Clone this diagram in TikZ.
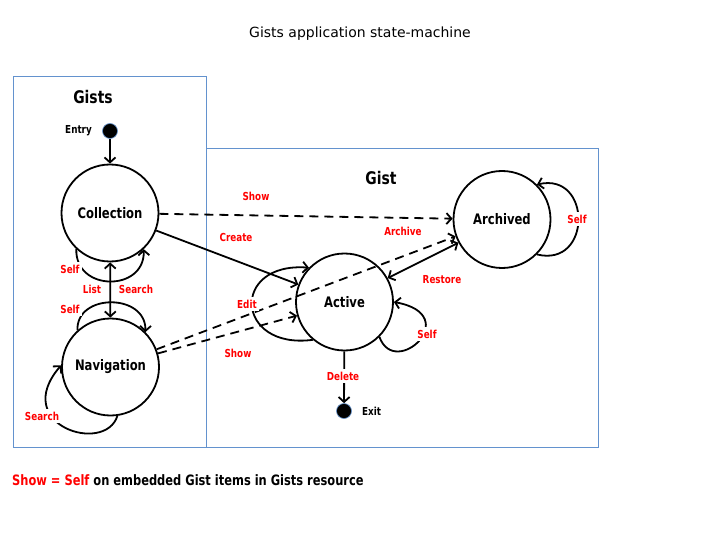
\documentclass[tikz,border=0pt]{standalone}
\usepackage{fontspec}
\setmainfont{DejaVu Sans}
\newfontfamily\bfnt[FakeStretch=0.8]{DejaVu Sans Bold}
\usetikzlibrary{arrows.meta}
\definecolor{boxblue}{RGB}{99,146,206}
\definecolor{lblred}{RGB}{255,0,0}
\begin{document}
\begin{tikzpicture}[x=1pt,y=-1pt,
  state/.style={circle,draw,line width=1.8pt,minimum size=97pt,inner sep=0pt,
    font=\bfnt\fontsize{14.5}{17}\selectfont},
  dot/.style={circle,fill=black,draw=boxblue,line width=0.6pt,minimum size=15pt,inner sep=0pt},
  lbl/.style={font=\bfnt\fontsize{11}{13}\selectfont,text=lblred,fill=white,inner sep=2.5pt},
  smalltxt/.style={font=\bfnt\fontsize{11}{13}\selectfont,inner sep=1pt},
  heading/.style={font=\bfnt\fontsize{17.4}{20}\selectfont,inner sep=1pt},
  tip/.style={Straight Barb[length=5pt,width=11pt]},
  conn/.style={line width=1.8pt,-{Straight Barb[length=5pt,width=11pt]}},
  dconn/.style={conn,dash pattern=on 9pt off 6pt},
  both/.style={line width=1.8pt,{Straight Barb[length=5pt,width=11pt]}-{Straight Barb[length=5pt,width=11pt]}},
  region/.style={draw=boxblue,line width=0.8pt}
]
\useasboundingbox[fill=white] (0,0) rectangle (720,540);

% title
\node[font=\fontsize{14}{17}\selectfont] (title) at (360,34) {Gists application state-machine};

% regions
\draw[region] (13,76) rectangle (206,447);
\draw[region] (206,148) rectangle (598,447);
\node[heading] (gistsh) at (93,97) {Gists};
\node[heading] (gisth) at (381,178) {Gist};

% states
\node[dot] (entry) at (110,131) {};
\node[smalltxt,anchor=east] (entrylbl) at (93,131) {Entry};
\node[state] (coll) at (110,213) {Collection};
\node[state] (nav) at (110.5,367) {Navigation};
\node[state] (act) at (344.5,302) {Active};
\node[state] (arch) at (502,219.5) {Archived};
\node[dot] (exit) at (344,411) {};
\node[smalltxt,anchor=west] (exitlbl) at (361,411) {Exit};

% connectors
\draw[conn] (entry) -- (coll);
\draw[both] (coll) -- (nav);
\draw[dconn] (coll) -- (arch);
\draw[conn] (coll) -- (act);
\draw[dconn] (nav.21) -- (arch.200);
\draw[dconn] (nav.16) -- (act.196);
\draw[both] (act.29) -- (arch.208);
\draw[conn] (act) -- (exit);

% self loops
\draw[conn] (coll.227) .. controls (75,292) and (145,292) .. (coll.-47);
\draw[conn] (nav.132) .. controls (76,293) and (146,293) .. (nav.45);
\draw[conn] (nav.-82) .. controls (105,455) and (10,425) .. (nav.178);
\draw[conn] (act.230) .. controls (235,350) and (230,262) .. (act.136);
\draw[conn] (act.-45) .. controls (395,380) and (465,315) .. (act.0);
\draw[conn] (arch.-45) .. controls (592,268) and (592,172) .. (arch.45);

% labels
\node[lbl] (lshow1) at (256,196) {Show};
\node[lbl] (lcreate) at (236,237) {Create};
\node[lbl] (larchive) at (403,231) {Archive};
\node[lbl] (lrestore) at (442,280) {Restore};
\node[lbl] (ledit) at (247,304) {Edit};
\node[lbl] (lshow2) at (238,353) {Show};
\node[lbl] (lselfact) at (427,334) {Self};
\node[lbl] (ldelete) at (343,376) {Delete};
\node[lbl] (lselfarch) at (577,219) {Self};
\node[lbl] (lselfcoll) at (70,269) {Self};
\node[lbl] (llist) at (92,289) {List};
\node[lbl] (lsearch) at (136,289) {Search};
\node[lbl] (lselfnav) at (70,309) {Self};
\node[lbl] (lsearchnav) at (42,416) {Search};

% footnote
\node[font=\bfnt\fontsize{14.3}{17}\selectfont,anchor=west,inner sep=0pt] (note) at (12,480)
  {\textcolor{lblred}{Show = Self} on embedded Gist items in Gists resource};
\end{tikzpicture}
\end{document}
